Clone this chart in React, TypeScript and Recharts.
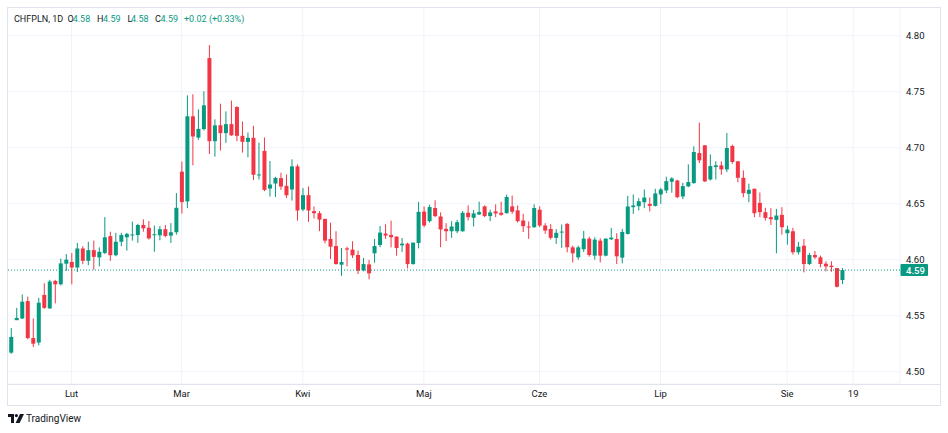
import React from 'react';
import { ComposedChart, Bar, XAxis, YAxis, CartesianGrid, ReferenceLine } from 'recharts';

const opens = [
  4.517, 4.546, 4.5475, 4.563, 4.530, 4.526, 4.5685, 4.5565, 4.581, 4.578,
  4.5964, 4.598, 4.593, 4.610, 4.599, 4.6085, 4.602, 4.606, 4.621, 4.604,
  4.616, 4.620, 4.622, 4.622, 4.631, 4.6285, 4.6221, 4.6218, 4.6272, 4.6215,
  4.6245, 4.6786, 4.652, 4.728, 4.709, 4.7166, 4.780, 4.7058, 4.720, 4.713,
  4.721, 4.7363, 4.7106, 4.7052, 4.7088, 4.6755, 4.6971, 4.6635, 4.668, 4.6728,
  4.6659, 4.6627, 4.6833, 4.6448, 4.6576, 4.6433, 4.6415, 4.6364, 4.6185, 4.6122,
  4.5955, 4.6101, 4.609, 4.6042, 4.5905, 4.5958, 4.6057, 4.6131, 4.6233, 4.6221,
  4.6206, 4.6128, 4.6143, 4.5961, 4.6149, 4.643, 4.6344, 4.6461, 4.6386, 4.6275,
  4.6254, 4.6254, 4.6254, 4.6419, 4.6374, 4.6404, 4.6476, 4.6389, 4.6431, 4.6419,
  4.6416, 4.6476, 4.644, 4.635, 4.6296, 4.629, 4.6446, 4.6305, 4.6275, 4.6195,
  4.6243, 4.632, 4.611, 4.6021, 4.6093, 4.6188, 4.6036, 4.617, 4.6036, 4.6182,
  4.6185, 4.6018, 4.623, 4.6469, 4.6478, 4.6513, 4.6498, 4.648, 4.6582, 4.6618,
  4.6696, 4.6707, 4.6564, 4.6654, 4.6684, 4.6952, 4.7021, 4.6716, 4.6827, 4.6842,
  4.6806, 4.7015, 4.6878, 4.6731, 4.6588, 4.6633, 4.6507, 4.6424, 4.6379, 4.6355,
  4.640, 4.6236, 4.6254, 4.6066, 4.6125, 4.5961, 4.6042, 4.6021, 4.5964, 4.5946,
  4.5925, 4.5818,
];
const highs = [
  4.539, 4.557, 4.569, 4.567, 4.5475, 4.566, 4.579, 4.582, 4.582, 4.601,
  4.605, 4.606, 4.615, 4.612, 4.616, 4.617, 4.611, 4.638, 4.625, 4.624,
  4.624, 4.624, 4.634, 4.632, 4.636, 4.6345, 4.6305, 4.630, 4.631, 4.6326,
  4.6595, 4.6876, 4.7467, 4.7477, 4.7342, 4.7503, 4.7916, 4.7253, 4.7393, 4.7324,
  4.742, 4.737, 4.7234, 4.7136, 4.7195, 4.7044, 4.7091, 4.6881, 4.674, 4.6776,
  4.6761, 4.6896, 4.6851, 4.6639, 4.6654, 4.6475, 4.6433, 4.6366, 4.6331, 4.6254,
  4.6104, 4.6116, 4.6164, 4.6081, 4.6015, 4.5997, 4.6185, 4.6301, 4.6316, 4.6349,
  4.6208, 4.6194, 4.6152, 4.6154, 4.6516, 4.6475, 4.6491, 4.653, 4.6422, 4.6326,
  4.6344, 4.6356, 4.6434, 4.6485, 4.6443, 4.6518, 4.6485, 4.6446, 4.6494, 4.6518,
  4.6581, 4.6572, 4.6485, 4.641, 4.6341, 4.6494, 4.6476, 4.6326, 4.6317, 4.6272,
  4.6314, 4.6326, 4.6125, 4.6125, 4.6257, 4.6206, 4.620, 4.6191, 4.619, 4.6284,
  4.6236, 4.6275, 4.657, 4.6582, 4.6549, 4.6627, 4.6555, 4.6633, 4.6642, 4.674,
  4.6737, 4.6713, 4.6687, 4.6851, 4.7012, 4.7224, 4.7023, 4.694, 4.6878, 4.6878,
  4.7131, 4.7027, 4.688, 4.6797, 4.6678, 4.6635, 4.660, 4.6463, 4.646, 4.6454,
  4.6469, 4.6304, 4.6284, 4.6158, 4.6185, 4.606, 4.6078, 4.6036, 4.5985, 4.5985,
  4.5927, 4.5925,
];
const lows = [
  4.516, 4.546, 4.547, 4.529, 4.522, 4.5235, 4.556, 4.556, 4.561, 4.577,
  4.590, 4.578, 4.589, 4.596, 4.595, 4.591, 4.594, 4.605, 4.599, 4.603,
  4.612, 4.608, 4.617, 4.615, 4.625, 4.618, 4.6071, 4.6173, 4.620, 4.6149,
  4.6224, 4.6412, 4.646, 4.6843, 4.707, 4.7153, 4.6944, 4.692, 4.6975, 4.7043,
  4.7106, 4.7058, 4.6956, 4.6914, 4.671, 4.6716, 4.6611, 4.6563, 4.656, 4.6623,
  4.6551, 4.6528, 4.6349, 4.6433, 4.6337, 4.6367, 4.6254, 4.6146, 4.6006, 4.5955,
  4.5857, 4.594, 4.6015, 4.5872, 4.5896, 4.5824, 4.5973, 4.611, 4.6185, 4.611,
  4.6036, 4.6069, 4.5922, 4.5955, 4.6101, 4.629, 4.6332, 4.638, 4.6111, 4.6165,
  4.6195, 4.6237, 4.6249, 4.635, 4.6296, 4.6398, 4.638, 4.6344, 4.638, 4.6392,
  4.641, 4.641, 4.6332, 4.6246, 4.6186, 4.6284, 4.629, 4.6231, 4.618, 4.6141,
  4.6105, 4.6066, 4.5976, 4.600, 4.6069, 4.6027, 4.600, 4.5976, 4.603, 4.6176,
  4.5961, 4.5967, 4.6224, 4.6409, 4.6439, 4.646, 4.643, 4.6475, 4.6499, 4.6594,
  4.6597, 4.6549, 4.654, 4.6648, 4.6678, 4.6863, 4.6693, 4.6707, 4.6716, 4.6758,
  4.6782, 4.6857, 4.669, 4.6558, 4.6513, 4.6379, 4.6379, 4.6349, 4.631, 4.6057,
  4.6224, 4.6134, 4.6045, 4.6045, 4.5887, 4.5952, 4.6006, 4.5931, 4.5895, 4.5892,
  4.5752, 4.5782,
];
const closes = [
  4.531, 4.548, 4.5625, 4.530, 4.525, 4.5616, 4.557, 4.5805, 4.578, 4.5967,
  4.600, 4.593, 4.610, 4.599, 4.6085, 4.6025, 4.607, 4.620, 4.604, 4.616,
  4.622, 4.623, 4.6225, 4.631, 4.628, 4.619, 4.6227, 4.6272, 4.6212, 4.6245,
  4.6463, 4.6514, 4.728, 4.710, 4.7168, 4.7378, 4.7058, 4.7199, 4.713, 4.721,
  4.711, 4.7106, 4.7052, 4.7088, 4.6758, 4.6761, 4.6623, 4.6671, 4.673, 4.6653,
  4.6575, 4.6833, 4.6439, 4.6576, 4.6439, 4.6415, 4.6358, 4.617, 4.6116, 4.5961,
  4.5979, 4.609, 4.6039, 4.5902, 4.5961, 4.5878, 4.6122, 4.6242, 4.6215, 4.620,
  4.6104, 4.6143, 4.5961, 4.6152, 4.6427, 4.6305, 4.647, 4.6389, 4.627, 4.6254,
  4.6296, 4.6335, 4.6419, 4.638, 4.6413, 4.6425, 4.6389, 4.6422, 4.6413, 4.6401,
  4.656, 4.6428, 4.6344, 4.6299, 4.629, 4.6461, 4.6305, 4.626, 4.6195, 4.624,
  4.6251, 4.6111, 4.6057, 4.611, 4.6188, 4.6042, 4.6179, 4.6036, 4.6188, 4.6197,
  4.603, 4.6248, 4.6475, 4.6484, 4.6522, 4.6555, 4.648, 4.6591, 4.6627, 4.6701,
  4.6725, 4.6558, 4.6657, 4.6693, 4.6961, 4.6887, 4.6699, 4.6836, 4.6842, 4.6806,
  4.6997, 4.6872, 4.6731, 4.6594, 4.6624, 4.6415, 4.6424, 4.6373, 4.6361, 4.6394,
  4.629, 4.6269, 4.6066, 4.6116, 4.5961, 4.6042, 4.6021, 4.5961, 4.594, 4.5934,
  4.5758, 4.5907,
];

const TOTAL_SLOTS = 162;
const tickIndexes = [11, 31, 53, 75, 96, 118, 141, 153];
const tickLabels = ['Lut', 'Mar', 'Kwi', 'Maj', 'Cze', 'Lip', 'Sie', '19'];
const priceTicks = [4.5, 4.55, 4.6, 4.65, 4.7, 4.75, 4.8];
const priceDomain = [4.489, 4.8256];

const UP = '#089981';
const DOWN = '#F23645';
const TEXT = '#131722';
const GRID = '#f0f3fa';
const BORDER = '#e0e3eb';
const FONT = 'Roboto, "Noto Sans", sans-serif';

const data = Array.from({ length: TOTAL_SLOTS }, (_, i) =>
  i < opens.length
    ? { i, o: opens[i], h: highs[i], l: lows[i], c: closes[i] }
    : { i }
);

const Candle = (props: any) => {
  const { x, y, width, height, payload } = props;
  if (!payload || payload.o === undefined || height == null || isNaN(height)) return null;
  const { o, h, l, c } = payload;
  const top = Math.min(y, y + height);
  const span = Math.abs(height);
  const k = h - l > 0 ? span / (h - l) : 0;
  const yO = top + (h - o) * k;
  const yC = top + (h - c) * k;
  const color = c >= o ? UP : DOWN;
  const cx = x + width / 2;
  const bTop = Math.min(yO, yC);
  const bH = Math.max(1, Math.abs(yO - yC));
  return (
    <g>
      <line x1={cx} x2={cx} y1={top} y2={top + span} stroke={color} strokeWidth={1} />
      <rect x={x} y={bTop} width={width} height={bH} fill={color} />
    </g>
  );
};

const PriceTag = (props: any) => {
  const vb = props.viewBox || {};
  const x = (vb.x || 0) + (vb.width || 0);
  const y = vb.y || 0;
  return (
    <g>
      <rect x={x + 0.5} y={y - 6} width={27.5} height={12} fill={UP} rx={1} />
      <text x={x + 6} y={y} dy="0.36em" fill="#ffffff" fontSize={9.5} fontFamily={FONT} fontWeight={500}>
        {closes[closes.length - 1].toFixed(2)}
      </text>
    </g>
  );
};

const last = opens.length - 1;
const hdr = (v: number) => v.toFixed(2);
const change = closes[last] - closes[last - 1];

export default function App() {
  const headerParts: { t: string; x: number; c: string }[] = [
    { t: 'CHFPLN, 1D', x: 14, c: TEXT },
    { t: 'O', x: 67.5, c: TEXT },
    { t: hdr(opens[last]), x: 72.7, c: UP },
    { t: 'H', x: 97, c: TEXT },
    { t: hdr(highs[last]), x: 103, c: UP },
    { t: 'L', x: 127.5, c: TEXT },
    { t: hdr(lows[last]), x: 131, c: UP },
    { t: 'C', x: 155, c: TEXT },
    { t: hdr(closes[last]), x: 160.5, c: UP },
    { t: '+0.02 (+0.33%)', x: 184, c: UP },
  ];
  void change;
  return (
    <div style={{ position: 'absolute', left: 0, top: 0, width: 948, height: 433, background: '#ffffff', fontFamily: FONT, overflow: 'hidden' }}>
      <div style={{ position: 'absolute', left: 7, top: 7 }}>
        <ComposedChart
          width={933}
          height={398}
          data={data}
          margin={{ top: 0, right: 0, bottom: 0, left: 0 }}
          barSize={4}
        >
          <CartesianGrid stroke={GRID} strokeWidth={1} />
          <XAxis
            dataKey="i"
            type="category"
            ticks={tickIndexes}
            interval={0}
            height={21}
            padding={{ left: 1.25, right: 0 }}
            axisLine={false}
            tickLine={false}
            tickSize={0}
            tickMargin={6}
            tickFormatter={(v: any) => {
              const k = tickIndexes.indexOf(Number(v));
              return k >= 0 ? tickLabels[k] : '';
            }}
            tick={{ fontSize: 9.5, fill: TEXT, fontFamily: FONT }}
          />
          <YAxis
            orientation="right"
            type="number"
            width={40}
            domain={priceDomain}
            allowDataOverflow
            ticks={priceTicks}
            axisLine={false}
            tickLine={false}
            tickSize={0}
            tickMargin={6}
            tickFormatter={(v: number) => v.toFixed(2)}
            tick={{ fontSize: 9.5, fill: TEXT, fontFamily: FONT, textAnchor: 'start' }}
          />
          <Bar
            dataKey={(d: any) => (d.o === undefined ? undefined : [d.l, d.h])}
            shape={<Candle />}
            isAnimationActive={false}
          />
          <ReferenceLine
            y={closes[last]}
            stroke={UP}
            strokeWidth={1}
            strokeDasharray="1 2"
            label={<PriceTag />}
          />
        </ComposedChart>
      </div>
      {/* frame */}
      <div style={{ position: 'absolute', left: 7, top: 7, width: 932, height: 397, border: `1px solid ${BORDER}`, boxSizing: 'content-box', pointerEvents: 'none' }} />
      <div style={{ position: 'absolute', left: 7, top: 384, width: 933, height: 1, background: BORDER }} />
      {/* header */}
      {headerParts.map((p, k) => (
        <div key={k} style={{ position: 'absolute', left: p.x, top: 13, fontSize: 9, lineHeight: '12px', color: p.c, whiteSpace: 'nowrap' }}>
          {p.t}
        </div>
      ))}
      {/* logo */}
      <svg style={{ position: 'absolute', left: 7.5, top: 414 }} width={16} height={9} viewBox="0 0 16 9">
        <path d="M0 0 H6 V9 H3 V3 H0 Z" fill={TEXT} />
        <circle cx={8.4} cy={1.6} r={1.6} fill={TEXT} />
        <path d="M12 0 H16 L11.6 9 H7.6 Z" fill={TEXT} />
      </svg>
      <div style={{ position: 'absolute', left: 26, top: 412, fontSize: 10, lineHeight: '14px', color: TEXT, whiteSpace: 'nowrap' }}>
        TradingView
      </div>
    </div>
  );
}
